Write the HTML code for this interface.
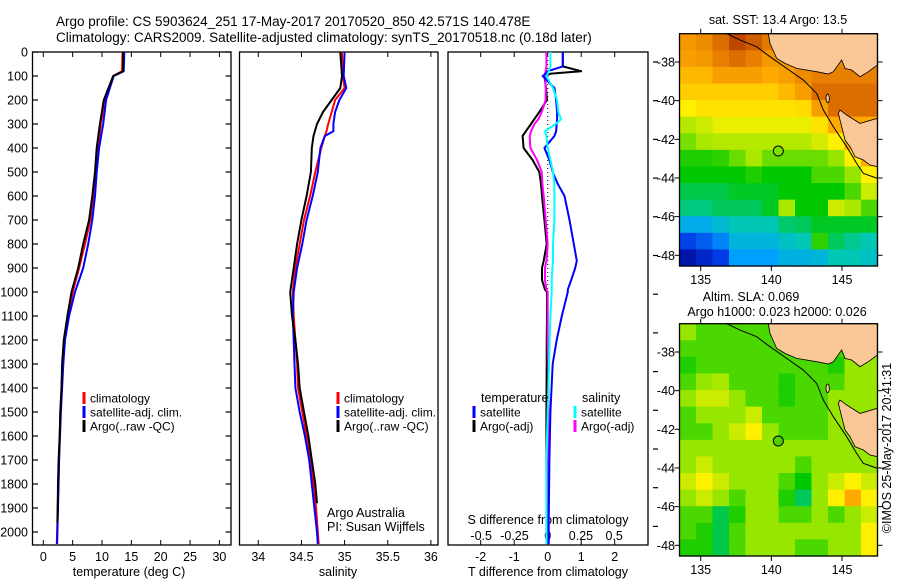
<!DOCTYPE html>
<html><head><meta charset="utf-8">
<style>
html,body{margin:0;padding:0;background:#fff;}
svg{display:block;font-family:"Liberation Sans",sans-serif;}
text{font-size:12.5px;fill:#000;}
</style></head>
<body>
<svg id="fig" width="900" height="580" viewBox="0 0 900 580" xmlns="http://www.w3.org/2000/svg">
<text x="56" y="26" style="font-size:13.5px">Argo profile: CS 5903624_251 17-May-2017 20170520_850 42.571S 140.478E</text>
<text x="56" y="42" style="font-size:13.5px">Climatology: CARS2009. Satellite-adjusted climatology: synTS_20170518.nc (0.18d later)</text>
<g id="plots"></g>
</svg>
<script>
// ---- profile data ----
const depthT = [0,80,100,200,300,400,500,600,700,800,900,1000,1100,1200,1300,1400,1500,1600,1700,1800,1900,2000,2050];
const tempClim = [13.5,13.4,11.9,10.5,9.8,9.3,8.9,8.5,8.0,7.1,6.1,5.0,4.2,3.6,3.3,3.1,2.9,2.8,2.65,2.55,2.45,2.35,2.3];
const tempSat  = [13.8,13.7,12.0,10.7,10.2,9.5,9.1,8.8,8.35,7.65,6.8,5.4,4.4,3.7,3.4,3.2,3.0,2.85,2.7,2.6,2.5,2.4,2.35];
const depthArgo = [0,80,100,200,300,400,500,600,700,800,900,1000,1100,1200,1300,1400,1500,1600,1700,1800,1900,1960];
const tempArgo = [13.6,13.6,11.9,10.3,9.65,9.1,8.8,8.35,7.8,6.8,5.95,4.8,4.1,3.5,3.2,3.1,2.9,2.8,2.6,2.5,2.45,2.4];

const depthS = [0,100,150,200,250,300,330,350,400,500,600,700,800,900,1000,1100,1200,1300,1400,1500,1600,1700,1800,1900,2000,2050];
const salClim = [34.97,34.98,35.0,34.89,34.85,34.81,34.79,34.77,34.73,34.66,34.6,34.53,34.48,34.43,34.4,34.41,34.43,34.45,34.46,34.51,34.56,34.6,34.64,34.67,34.69,34.7];
const salSat  = [35.0,34.99,35.02,34.94,34.89,34.87,34.87,34.77,34.72,34.69,34.63,34.56,34.51,34.45,34.41,34.4,34.41,34.42,34.43,34.48,34.54,34.59,34.62,34.65,34.68,34.69];
const depthSA = [0,100,150,200,250,300,350,400,500,600,700,800,900,1000,1100,1200,1300,1400,1500,1600,1700,1800,1880];
const salArgo = [34.95,34.97,34.95,34.85,34.75,34.68,34.64,34.62,34.61,34.56,34.5,34.45,34.41,34.37,34.39,34.43,34.46,34.48,34.53,34.58,34.62,34.66,34.68];

const depthD = [0,60,80,90,100,150,200,250,280,300,330,350,400,450,500,550,600,700,800,870,900,950,990,1000,1100,1200,1300,1500,1700,1960,2050];
const tDiffSat  = [0.45,0.45,0.0,-0.05,-0.15,0.2,0.25,0.28,0.28,0.27,0.25,0.2,-0.1,0.05,0.15,0.3,0.5,0.65,0.78,0.87,0.82,0.7,0.6,0.6,0.42,0.27,0.15,0.08,0.05,0.03,0.03];
const tDiffArgo = [0.45,0.45,1.0,0.1,-0.1,-0.05,-0.02,-0.25,-0.4,-0.5,-0.65,-0.75,-0.72,-0.45,-0.25,-0.2,-0.17,-0.1,-0.03,-0.12,-0.17,-0.17,-0.08,-0.02,-0.02,-0.03,-0.03,-0.04,-0.04,-0.03,-0.03];
const sDiffSat  = [0.02,0.02,0.01,0.0,-0.01,0.04,0.07,0.08,0.1,0.06,-0.02,-0.01,0.0,0.02,0.04,0.05,0.05,0.05,0.04,0.04,0.035,0.03,0.03,0.03,0.02,0.015,0.01,0.0,-0.01,-0.01,-0.01];
const sDiffArgo = [-0.01,-0.01,-0.015,-0.02,-0.02,-0.015,-0.015,-0.045,-0.07,-0.1,-0.125,-0.135,-0.13,-0.08,-0.045,-0.04,-0.03,-0.015,0.0,-0.01,-0.02,-0.02,-0.01,0.0,0.0,0.0,0.005,0.005,0.005,0.005,0.005];

const depthTicks = [0,100,200,300,400,500,600,700,800,900,1000,1100,1200,1300,1400,1500,1600,1700,1800,1900,2000];
const tempTicks = [0,5,10,15,20,25,30];
const salTicks = [34,34.5,35,35.5,36];
const tDiffTicks = [-2,-1,0,1,2];
const sDiffTicks = [-0.5,-0.25,0,0.25,0.5];
const sDiffTickLabels = ["-0.5","-0.25","0","0.25","0.5"];

// ---- map data (0-10 colour scale), rows north->south, cols west->east ----
const sstGrid = [
[8.3,8.5,9,9.5,9.2,8.8,8.5,8.5,8.5,8.5,8.5,8.5],
[8.2,8.3,8.7,9,8.7,8.3,8.3,8.5,8.5,8.5,8.5,8.5],
[7.8,7.8,8.2,8.2,8.2,8,8.2,8.5,8.7,8.7,8.7,8.7],
[7.5,7.5,7.5,7.5,7.5,7.5,7.8,8.2,9,9,9,9],
[7,7.2,7.2,7.2,7.2,7.2,7.2,7.3,8.2,9,9,9],
[6.3,6.5,6.8,6.8,6.8,6.8,6.8,6.8,7.2,8,8,8],
[5.8,6.2,6.3,6.3,6.3,6.3,6.3,6.3,6.6,7,8,8],
[5.2,5.2,5.3,5.7,6.2,5.7,5.7,5.7,5.7,6,7,8],
[5,5,5,5,5.2,5,5,5,5.5,5.5,6,7],
[4.6,4.6,4.6,4.8,4.8,4.8,5,5,5,5,5.5,6.5],
[4.3,4.3,4.5,4.5,4.5,4.8,6.2,5,5,6.5,6.2,5.5],
[3.3,3.3,3.6,4,4,4,4.4,4.5,4.8,4.8,4.8,4.8],
[1.6,2,2.6,3.5,3.5,3.5,3.8,4,5.3,4.5,4.2,4],
[0.5,1,1.5,3,3,3,3.4,3.4,3.5,4,4,3.8]];
const slaGrid = [
[6,5.5,5.5,5.5,5.5,5.5,5.5,6,6,6,6,6],
[5.5,5.5,5.5,5.5,5.5,5.5,5.5,5.5,6,5.5,6,6],
[5.2,5.5,5.5,5.5,5.5,5.5,5.5,5.5,5.5,5.2,6,6],
[5.5,6,6.2,5.5,5.5,5.5,5.2,5.5,5.5,5.5,6,6],
[6,6.5,6.5,6,5.5,5.5,5.2,5.5,5.5,6,6,6],
[5.5,6,6,6,6.5,5.5,5.5,5.5,5.5,6,6,6],
[5.5,5.5,6,6.5,7,6,5.5,5.5,5.5,6,6,6],
[6,6,6,6,6,6,6,6,6,6,6,6],
[6,6.5,6,6,6,6,6,5.5,6,6,6,6],
[6.5,7,6.5,6,6,6,5.5,5,6,6.5,7,6.5],
[6,6.5,6,5.5,6,6,5.2,4.5,6,7,8,7],
[5.5,5.5,4.6,5.2,6,6,5.5,5.5,6,5.5,6,6.5],
[5.5,5.2,4.6,5.5,6,6,6,6,6,6,6,7],
[5.2,5.2,4.6,5.5,6,6,6,5.5,5.5,6,6,7]];
const lonTicks = [135,140,145];
const latTicks = [-38,-40,-42,-44,-46,-48];

const NS = "http://www.w3.org/2000/svg";
const root = document.getElementById('plots');
function mk(tag, attrs, parent){const e=document.createElementNS(NS,tag);for(const k in attrs)e.setAttribute(k,attrs[k]);(parent||root).appendChild(e);return e;}
function txt(x,y,s,anchor,parent){const t=mk('text',{x:x,y:y,'text-anchor':anchor||'start'},parent);t.textContent=s;return t;}

const yD = d => 52 + d*0.24;
const xT = v => 43.3 + v*5.87;
const xS = v => 258.3 + (v-34)*86.3;
const xTd = v => 547.7 + v*33.5;
const xSd = v => 547.7 + v*133;

function box(x0,x1,name){const r=mk('rect',{x:x0,y:52,width:x1-x0,height:493,fill:'none',stroke:'#000','stroke-width':1.3});}
function line(xs,ys,fx,color,w,name){
  let p='';for(let i=0;i<xs.length;i++){p+=(i?'L':'M')+fx(xs[i]).toFixed(1)+' '+yD(ys[i]).toFixed(1);}
  const e=mk('path',{d:p,fill:'none',stroke:color,'stroke-width':w,'stroke-linejoin':'round'});
  
}

box(32.5,231,'temperature-plot-frame');
box(239.5,438,'salinity-plot-frame');
box(448,648,'difference-plot-frame');

depthTicks.forEach(d=>{
  const y=yD(d);
  mk('line',{x1:32.5,x2:38,y1:y,y2:y,stroke:'#000','stroke-width':1.2});
  mk('line',{x1:225.5,x2:231,y1:y,y2:y,stroke:'#000','stroke-width':1.2});
  const t=txt(28,y+4.5,String(d),'end');
  
  
});
for(let i=0;i<13;i++){const y=62+i*38.7;mk('line',{x1:653,x2:658,y1:y,y2:y,stroke:'#000','stroke-width':1.2});}

tempTicks.forEach(v=>{const x=xT(v);mk('line',{x1:x,x2:x,y1:52,y2:57,stroke:'#000'});mk('line',{x1:x,x2:x,y1:540,y2:545,stroke:'#000'});
  const t=txt(x,561,String(v),'middle');});
salTicks.forEach(v=>{const x=xS(v);mk('line',{x1:x,x2:x,y1:52,y2:57,stroke:'#000'});mk('line',{x1:x,x2:x,y1:540,y2:545,stroke:'#000'});
  const t=txt(x,561,String(v),'middle');});
tDiffTicks.forEach(v=>{const x=xTd(v);mk('line',{x1:x,x2:x,y1:52,y2:57,stroke:'#000'});mk('line',{x1:x,x2:x,y1:540,y2:545,stroke:'#000'});
  const t=txt(x,561,String(v),'middle');});
sDiffTicks.forEach((v,i)=>{const t=txt(xSd(v),540,sDiffTickLabels[i],'middle');});

let t;
t=txt(129,576,'temperature (deg C)','middle');
t=txt(338,576,'salinity','middle');
t=txt(548,576,'T difference from climatology','middle');
t=txt(548,524,'S difference from climatology','middle');

mk('line',{x1:xTd(0),x2:xTd(0),y1:60,y2:540,stroke:'#000','stroke-dasharray':'1 3','stroke-width':1});

line(tempClim,depthT,xT,'#f00',2,'temperature-climatology-line');
line(tempSat,depthT,xT,'#00f',2,'temperature-satellite-line');
line(tempArgo,depthArgo,xT,'#000',2,'temperature-argo-line');
line(salClim,depthS,xS,'#f00',2,'salinity-climatology-line');
line(salSat,depthS,xS,'#00f',2,'salinity-satellite-line');
line(salArgo,depthSA,xS,'#000',2,'salinity-argo-line');
line(tDiffArgo,depthD,xTd,'#000',2,'t-diff-argo-line');
line(sDiffArgo,depthD,xSd,'#f0f',2,'s-diff-argo-line');
line(tDiffSat,depthD,xTd,'#00f',2,'t-diff-satellite-line');
line(sDiffSat,depthD,xSd,'#0ff',2,'s-diff-satellite-line');

function leg(x,y,color,label,name){const g=mk('g',{});
  mk('rect',{x:x-1.5,y:y-6,width:3,height:12,fill:color},g);if(label){const l=txt(x+6,y+4.5,label,'start',g);l.setAttribute('style','font-size:12px');}}
leg(84,398,'#f00','climatology','legend-climatology');
leg(84,412,'#00f','satellite-adj. clim.','legend-satellite-adj');
leg(84,426,'#000','Argo(..raw -QC)','legend-argo');
leg(338,398,'#f00','climatology','legend-climatology-sal');
leg(338,412,'#00f','satellite-adj. clim.','legend-satellite-adj-sal');
leg(338,426,'#000','Argo(..raw -QC)','legend-argo-sal');
t=txt(481,402,'temperature');
t=txt(582,402,'salinity');
leg(474,412,'#00f','satellite','legend-t-satellite');
leg(474,426,'#000','Argo(-adj)','legend-t-argo');
leg(575,412,'#0ff','satellite','legend-s-satellite');
leg(575,426,'#f0f','Argo(-adj)','legend-s-argo');
t=txt(327,517,'Argo Australia');
t=txt(327,531,'PI: Susan Wijffels');

const stops=[[0,[0,0,140]],[0.15,[0,60,230]],[0.3,[0,160,255]],[0.4,[0,200,180]],[0.5,[0,200,0]],[0.6,[150,230,0]],[0.7,[255,240,0]],[0.8,[255,170,0]],[0.9,[220,110,0]],[1,[160,30,0]]];
function cmap(v){v=Math.max(0,Math.min(1,v/10));for(let i=1;i<stops.length;i++){if(v<=stops[i][0]){const a=stops[i-1],b=stops[i];const f=(v-a[0])/(b[0]-a[0]);return 'rgb('+a[1].map((c,k)=>Math.round(c+(b[1][k]-c)*f)).join(',')+')';}}return 'rgb(160,30,0)';}
const mapX0=679.5,mapX1=877.5;
const xLon = lon => 700.7 + (lon-135)*14.13;
function drawMap(grid,top,name,titleLines){
  const g=mk('g',{});
  const bottom=top+232.3;
  const yLat = lat => top + 28.3 + (-38-lat)*19.33;
  const rows=grid.length, cols=grid[0].length;
  const cw=(mapX1-mapX0)/cols, ch=(bottom-top)/rows;
  grid.forEach((row,r)=>row.forEach((v,c)=>{
    const cell=mk('rect',{x:(mapX0+c*cw).toFixed(2),y:(top+r*ch).toFixed(2),width:(cw+0.6).toFixed(2),height:(ch+0.6).toFixed(2),fill:cmap(v)},g);
    
    
  }));
  const geo=mk('g',{transform:'translate(660,'+(top-33.67)+') scale(0.33333)'},g);
  const land=mk('path',{d:'M325 101 L330 130 L350 175 L375 190 L410 205 L470 215 L505 222 L520 215 L545 180 L555 205 L575 210 L600 230 L625 215 L652 195 L652 101 Z M540 330 L560 345 L600 370 L652 355 L652 500 L630 495 L610 480 L585 470 L570 440 L555 420 L545 380 L535 340 Z',fill:'#fac896',stroke:'#000','stroke-width':2.5},geo);
  
  mk('ellipse',{cx:503,cy:295,rx:5,ry:13,fill:'#fac896',stroke:'#000','stroke-width':2.5},geo);
  mk('path',{d:'M200 101 L240 120 L290 140 L330 170 L380 205 L430 240 L470 280 L490 330 L520 380 L560 440 L590 490 L610 520 L652 535',fill:'none',stroke:'#000','stroke-width':3},geo);
  const pt=mk('circle',{cx:355,cy:453,r:15,fill:name==='sst-map'?'#7ee000':'#50d000',stroke:'#000','stroke-width':3},geo);
  
  mk('rect',{x:mapX0,y:top,width:mapX1-mapX0,height:bottom-top,fill:'none',stroke:'#000','stroke-width':1.3},g);
  lonTicks.forEach(l=>{const x=xLon(l);mk('line',{x1:x,x2:x,y1:top-5,y2:top,stroke:'#000'},g);mk('line',{x1:x,x2:x,y1:bottom,y2:bottom+5,stroke:'#000'},g);
    const tl=txt(x,bottom+18,String(l),'middle',g);});
  latTicks.forEach(l=>{const y=yLat(l);mk('line',{x1:mapX0-5,x2:mapX0,y1:y,y2:y,stroke:'#000'},g);mk('line',{x1:mapX1,x2:mapX1+5,y1:y,y2:y,stroke:'#000'},g);
    const tl=txt(675,y+4.5,String(l),'end',g);});
  titleLines.forEach(tt=>{const tl=txt(tt[0],tt[1],tt[2],'middle',g);});
}
drawMap(sstGrid,33.7,'sst-map',[[778,24,'sat. SST: 13.4  Argo: 13.5']]);
drawMap(slaGrid,323.7,'sla-map',[[751,301,'Altim. SLA: 0.069'],[777,316,'Argo h1000: 0.023 h2000: 0.026']]);
t=txt(0,0,'©IMOS 25-May-2017 20:41:31','middle');
t.setAttribute('transform','translate(891,448) rotate(-90)');


</script>
</body></html>
